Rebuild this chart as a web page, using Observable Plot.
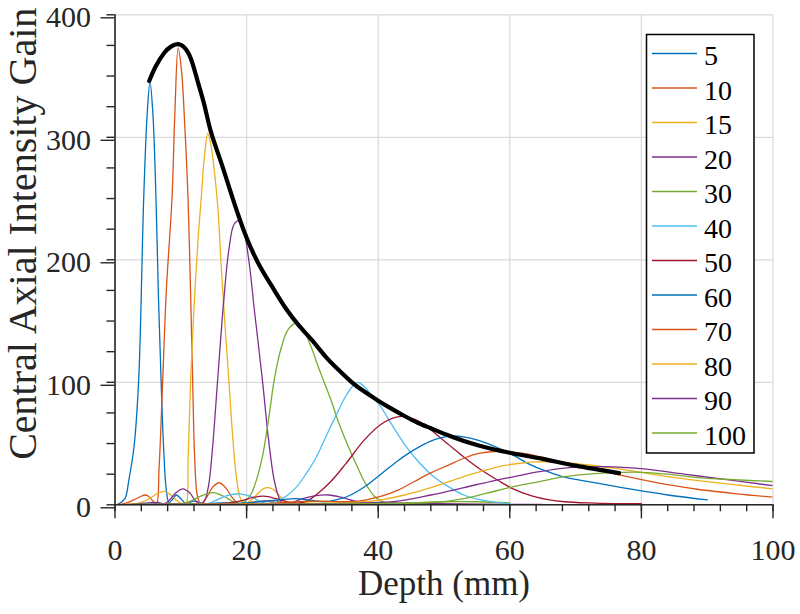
<!DOCTYPE html>
<html><head><meta charset="utf-8">
<script src="https://cdn.jsdelivr.net/npm/d3@7"></script>
<script src="https://cdn.jsdelivr.net/npm/@observablehq/plot@0.6"></script>
<style>
html,body{margin:0;padding:0;background:#fff;}
#chart{width:800px;height:614px;overflow:hidden;}
</style></head><body><div id="chart"></div>
<script>
// ---- data ----
const focalDepths = [5, 10, 15, 20, 30, 40, 50, 60, 70, 80, 90, 100];

const curve5 = [[0,0],[0.5,0.5],[1.5,5],[2.1,20],[2.9,48],[3.6,102],[4.36,250],[4.9,320],[5.32,345],[5.75,320],[6.23,250],[6.6,170],[7.0,102],[7.4,45],[7.8,12],[8.2,2],[8.7,4],[9.3,8],[10,5],[10.8,1],[12,3],[13.5,1],[16,1.5],[20,1],[25,0.5],[30,0.5]];
const curve10 = [[0,0],[1,0.5],[2,2],[3,4.5],[4,7],[4.5,8],[5.1,7],[5.7,3.5],[6.3,0.5],[6.7,30],[7.25,102],[7.8,175],[8.66,250],[9.1,320],[9.6,373],[10.1,355],[10.6,310],[11.1,250],[11.5,170],[11.8,102],[12.1,40],[12.5,8],[13,1],[13.8,5],[14.8,14],[15.8,18],[16.8,14],[17.8,6],[18.8,1],[20,1.5],[22,3],[24,3],[26,1.5],[28,0.5],[32,1],[40,0.5],[50,0.3]];
const curve15 = [[0,0],[2,0.5],[4,2],[5.5,6],[6.5,9.5],[7.5,11],[8.5,8],[9.5,3],[10.3,0.5],[10.8,1],[11.1,35],[11.5,102],[12,160],[12.6,215],[13.1,250],[13.6,285],[14.1,303],[14.6,293],[15.1,272],[15.6,245],[16.2,190],[16.8,140],[17.3,102],[17.8,62],[18.4,25],[19,6],[19.6,1],[20.5,3],[21.5,8],[22.5,13],[23.4,14],[24.4,11],[25.4,5],[26.5,1],[28,1.5],[31,3],[34,2.5],[37,1],[42,1],[50,0.5],[60,0.3]];
const curve20 = [[0,0],[3,0.5],[5,1.5],[6.5,2],[7.5,1],[8.3,4],[9.3,10],[10.3,13],[11.3,10],[12.3,3],[13.1,0.5],[13.6,3],[14.2,15],[14.8,45],[15.6,102],[16.5,165],[17.3,208],[18.1,229],[18.85,232],[19.6,223],[20.4,197],[21.2,158],[22.4,102],[23.3,55],[24.2,20],[25,5],[25.6,1],[27,2],[28.5,5],[30.5,7.5],[32.5,8],[34.5,6],[36.5,3],[38.5,1],[42,1.5],[48,1],[55,0.5],[65,0.3]];
const curve30 = [[0,0],[5,0.5],[8,1],[10,1],[11.5,3],[13,7],[14.9,10],[16.5,7],[18,2.5],[19,0.8],[19.8,3],[20.7,9],[21.6,22],[22.5,42],[23.4,72],[24.2,102],[25.2,127],[26.3,143],[27.5,148],[28.7,142],[29.8,129],[31,111],[32.8,86],[34,67],[35.9,42],[37,29],[37.9,19],[39.4,7],[40.5,3],[42,1],[45,1.5],[50,2.5],[55,2.5],[60,1.5]];
const curve40 = [[0,0],[8,0.5],[12,1],[14,1],[15.5,4],[17,7.5],[18.9,9],[20.5,7],[22,3],[23.2,1],[24.5,3],[26,7],[27.5,14],[29,25],[30.5,38],[32,55],[33.5,72],[35,88],[36.3,98],[36.9,100],[38,96],[39,89],[40.4,80],[42,66],[43.8,51],[45.5,39],[48,25],[50.6,15],[53,8],[55.6,4],[58,2],[60,1]];
const curve50 = [[0,0],[10,0.5],[16,1],[19,3],[21,6],[22.6,7],[24.5,5],[26.5,2],[28,1.5],[29.5,4],[31,10],[32.8,19],[35,33],[37.9,53],[40.5,66],[43.2,72],[45.5,70],[48,61],[50.5,50],[53,39],[55.5,29],[58.2,20],[60.5,13],[63.2,7.5],[66,4],[68.3,2.5],[72,1.5],[76,1],[80,1]];
const curve60 = [[0,0],[12,0.5],[18,1],[22,2.5],[25,4],[27.5,5],[30,3.5],[32,2.5],[33.5,4],[35.4,7],[38,15],[40.4,25],[43,36],[45.5,45],[48,52],[50.8,56],[53,55.5],[55.6,52],[58,47],[60.7,40],[63,33],[65.8,27],[68,23],[70.8,20],[73.9,17],[78.9,12.3],[84,8],[90,4]];
const curve70 = [[0,0],[15,0.5],[22,1],[26,2],[30,3],[34,2.5],[37,3],[40.5,7],[43,12],[45.5,19],[48,26],[50.5,32],[53,38],[55.3,42],[57.6,43.5],[60.4,43],[63.2,41],[65.8,37.5],[68.3,34],[71,31],[73.9,28],[77,24],[80.2,20.4],[84.5,16],[89,12.3],[94.5,9],[100,6.3]];
const curve80 = [[0,0],[20,0.5],[28,1],[34,1.5],[38,2.5],[40.4,4],[44,8],[48,14],[50.5,18.5],[53,23],[55.5,27],[58.2,31],[61,33.5],[63.7,35],[66.5,35],[69.3,34],[72,32.5],[75.8,30],[80,26.5],[84,23],[89,19.5],[94,16.4],[100,13]];
const curve90 = [[0,0],[25,0.5],[33,1],[38,1.5],[43,3],[48,8],[53,14],[57,19],[60.7,23],[64.5,27],[68.3,30],[72,31],[75.8,31],[80,29.5],[86.5,25],[93,20.5],[100,15.6]];
const curve100 = [[0,0],[30,0.5],[40,1],[46,1.5],[50,2.5],[53,5],[56.5,9.5],[60.7,15],[64.5,19],[68.3,23],[72,25],[75.8,26.3],[80,26.5],[84,25],[89,22],[94,20.5],[100,19]];
const envelope = [[5.2,346],[6.2,358],[7.5,369],[8.5,374],[9.5,376],[10.5,373.5],[11.55,364],[12.6,345],[13.6,326],[14.6,304],[16.1,280],[17.9,250],[20,218],[22,195],[24,177],[26,160],[28,146],[30,134],[32,121],[34,110],[36,100],[38,92],[40,85],[42,78.5],[44,72.5],[46,67],[48,62.5],[51,56],[55,48.8],[60,42.5],[65,37.5],[70,32],[76.6,25.9]];

const xTicks = [0, 20, 40, 60, 80, 100];
const xMinorTicks = [0,4,8,12,16,20,24,28,32,36,40,44,48,52,56,60,64,68,72,76,80,84,88,92,96,100];
const yTicks = [0, 100, 200, 300, 400];
const yMinorTicks = [0,25,50,75,100,125,150,175,200,225,250,275,300,325,350,375,400];
const xLabel = "Depth (mm)";
const yLabel = "Central Axial Intensity Gain";

// ---- styles ----
const seriesColors = ["#0072BD","#D95319","#EDB120","#7E2F8E","#77AC30","#4DBEEE","#A2142F","#0072BD","#D95319","#EDB120","#7E2F8E","#77AC30"];
const FONT = "'Liberation Serif', 'Times New Roman', serif";
const AX = "#262626";

const curves = [curve5, curve10, curve15, curve20, curve30, curve40, curve50, curve60, curve70, curve80, curve90, curve100];
const rows = curves.flatMap((c, i) => c.map(([x, y]) => ({F: focalDepths[i], x, y})));
const envRows = envelope.map(([x, y]) => ({x, y}));

const plot = Plot.plot({
  width: 800, height: 614,
  marginLeft: 114.5, marginRight: 27.5, marginTop: 14.3, marginBottom: 109.7,
  style: {fontFamily: FONT, background: "#fff", overflow: "visible"},
  x: {domain: [0, 100]},
  y: {domain: [0, 400]},
  color: {type: "ordinal", domain: focalDepths, range: seriesColors},
  marks: [
    Plot.gridX(xTicks, {stroke: "#d9d9d9", strokeOpacity: 1, strokeWidth: 1.2}),
    Plot.gridY(yTicks, {stroke: "#d9d9d9", strokeOpacity: 1, strokeWidth: 1.2}),
    Plot.line(rows, {x: "x", y: "y", z: "F", stroke: "F", strokeWidth: 1.3, curve: "catmull-rom", clip: true}),
    Plot.line(envRows, {x: "x", y: "y", stroke: "#000", strokeWidth: 4.2, curve: "natural"}),
    Plot.ruleX([0], {stroke: AX, strokeWidth: 1.6}),
    Plot.ruleY([0], {stroke: AX, strokeWidth: 1.6}),
    Plot.axisX(xMinorTicks, {tickSize: 7, tickFormat: () => "", stroke: AX, strokeWidth: 1.4, label: null}),
    Plot.axisY(yMinorTicks, {tickSize: 8, tickFormat: () => "", stroke: AX, strokeWidth: 1.4, label: null}),
    Plot.axisX(xTicks, {tickSize: 14, tickPadding: 20, fontSize: 30, stroke: AX, strokeWidth: 1.4, fill: AX, label: null}),
    Plot.axisY(yTicks, {tickSize: 14, tickPadding: 10, dy: 3, fontSize: 30, stroke: AX, strokeWidth: 1.4, fill: AX, label: null}),
    Plot.text([xLabel], {frameAnchor: "bottom", textAnchor: "middle", dy: 90.5, fontSize: 35, fill: AX}),
    Plot.text([yLabel], {frameAnchor: "left", textAnchor: "middle", rotate: -90, dx: -92, dy: -26, fontSize: 40, fill: AX})
  ]
});

document.getElementById("chart").appendChild(plot);

// ---- legend ----
const svg = d3.select(plot);
const lg = svg.append("g").attr("font-family", FONT).attr("text-anchor", "start");
lg.append("rect").attr("x", 646.5).attr("y", 34.5).attr("width", 107.5).attr("height", 418.5)
  .attr("fill", "#fff").attr("stroke", "#000").attr("stroke-width", 1.5);
focalDepths.forEach((F, i) => {
  const cy = 53.5 + i * 34.5;
  lg.append("line").attr("x1", 652).attr("x2", 697).attr("y1", cy).attr("y2", cy)
    .attr("stroke", seriesColors[i]).attr("stroke-width", 1.5);
  lg.append("text").attr("x", 704).attr("y", cy + 11.5).attr("font-size", 28)
    .attr("text-anchor", "start").attr("fill", "#000").text(String(F));
});
</script></body></html>
